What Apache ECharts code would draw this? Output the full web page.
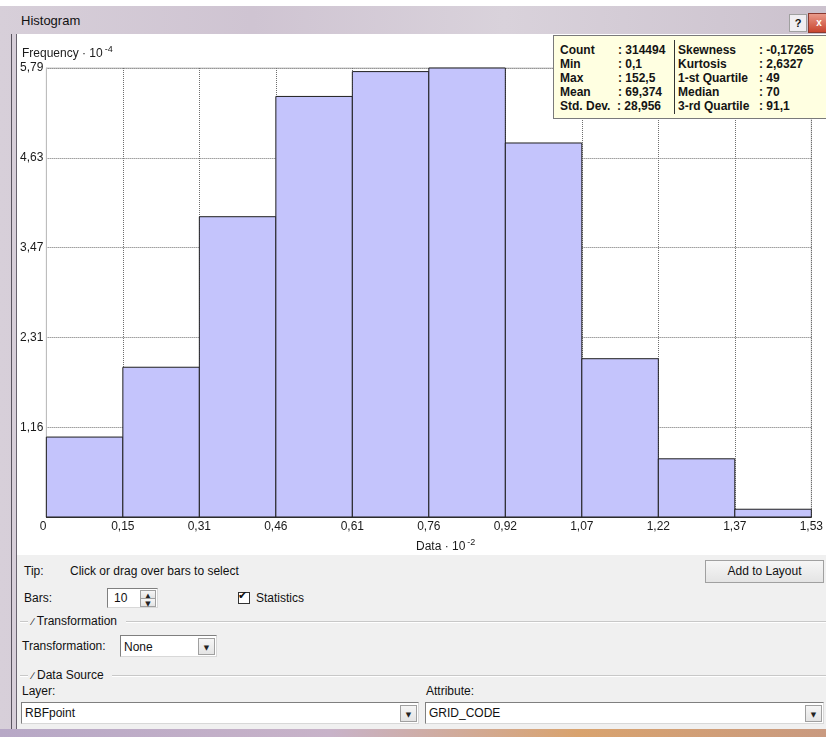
<!DOCTYPE html>
<html>
<head>
<meta charset="utf-8">
<script src="https://cdn.jsdelivr.net/npm/echarts@6/dist/echarts.min.js"></script>
<style>
  html, body { margin: 0; padding: 0; width: 826px; height: 737px; overflow: hidden; background: #fff;
    font-family: "Liberation Sans", Arial, sans-serif; font-size: 12px; color: #111; }
  .abs { position: absolute; white-space: nowrap; }
  #frame { left: 0; top: 6px; width: 840px; height: 724px;
    background: linear-gradient(90deg, #d7cfd9 0%, #cfc4d2 30%, #d9d2db 60%, #cbc1cd 100%); }
  #leftline1 { left: 11px; top: 34px; width: 1px; height: 696px; background: #5a5560; }
  #leftline2 { left: 16px; top: 34px; width: 1px; height: 696px; background: #6a6470; }
  #bottomglow { left: 0; top: 729px; width: 826px; height: 8px;
    background: linear-gradient(90deg, #b7a8c6 0%, #c8b3c9 40%, #d9a36e 70%, #c99a80 100%); }
  #panel { left: 17px; top: 555px; width: 820px; height: 174px; background: #f0f0f0; }
  #chart { position: absolute; left: 17px; top: 34px; width: 809px; height: 521px; background: #fff; }
  #stats { left: 553px; top: 35px; width: 290px; height: 82px; background: #ffffe1;
    border: 1px solid #7a7a7a; font-weight: bold; font-size: 12px; color: #141414; }
  #stats span { position: absolute; white-space: nowrap; }
  .btn { border: 1px solid #a0a0a0; background: linear-gradient(#f6f6f6, #e4e4e4); text-align: center; }
  .box { background: #fff; border: 1px solid #7f7f7f; border-right-color: #d8d8d8; border-bottom-color: #d8d8d8; }
  .grp { height: 1px; background: #c8c8c8; border-bottom: 1px solid #fff; }
  .arrow { font-family: "DejaVu Sans"; font-size: 7px; color: #222; }
</style>
</head>
<body>
<div id="frame" class="abs"></div>
<div class="abs" style="left:21px; top:13px; font-family:'Liberation Sans'; font-size:13px; color:#111;">Histogram</div>
<div class="abs btn" style="left:789px; top:14px; width:16px; height:16px; font-weight:bold; font-size:11px; line-height:16px; background:#f0eef2;">?</div>
<div class="abs" style="left:808px; top:13px; width:20px; height:18px; background:linear-gradient(#e99a8a,#c8442e); border:1px solid #8a3a30; color:#fff; font-weight:bold; font-size:10px; line-height:17px; text-align:center;">x</div>
<div id="leftline1" class="abs"></div>
<div id="leftline2" class="abs"></div>
<div id="panel" class="abs"></div>
<div id="bottomglow" class="abs"></div>
<div id="chart"></div>

<div id="stats" class="abs">
  <span style="left:6px; top:7px;">Count</span><span style="left:64px; top:7px;">: 314494</span>
  <span style="left:6px; top:21px;">Min</span><span style="left:64px; top:21px;">: 0,1</span>
  <span style="left:6px; top:35px;">Max</span><span style="left:64px; top:35px;">: 152,5</span>
  <span style="left:6px; top:49px;">Mean</span><span style="left:64px; top:49px;">: 69,374</span>
  <span style="left:6px; top:63px;">Std. Dev.</span><span style="left:63px; top:63px;">: 28,956</span>
  <span style="left:120px; top:4px; width:1px; height:74px; background:#333;"></span>
  <span style="left:124px; top:7px;">Skewness</span><span style="left:205px; top:7px;">: -0,17265</span>
  <span style="left:124px; top:21px;">Kurtosis</span><span style="left:205px; top:21px;">: 2,6327</span>
  <span style="left:124px; top:35px;">1-st Quartile</span><span style="left:205px; top:35px;">: 49</span>
  <span style="left:124px; top:49px;">Median</span><span style="left:205px; top:49px;">: 70</span>
  <span style="left:124px; top:63px;">3-rd Quartile</span><span style="left:205px; top:63px;">: 91,1</span>
</div>

<!-- bottom controls -->
<div class="abs" style="left:24px; top:564px;">Tip:</div>
<div class="abs" style="left:70px; top:564px;">Click or drag over bars to select</div>
<div class="abs btn" style="left:705px; top:560px; width:117px; height:21px; line-height:21px;">Add to Layout</div>

<div class="abs" style="left:24px; top:591px;">Bars:</div>
<div class="abs box" style="left:107px; top:588px; width:49px; height:18px;"></div>
<div class="abs" style="left:114px; top:591px;">10</div>
<div class="abs btn" style="left:140px; top:590px; width:14px; height:7px; line-height:7px;"><span class="arrow">▲</span></div>
<div class="abs btn" style="left:140px; top:598px; width:14px; height:7px; line-height:7px;"><span class="arrow">▼</span></div>
<div class="abs box" style="left:238px; top:592px; width:10px; height:10px; border:1px solid #333;"></div>
<div class="abs" style="left:238px; top:589px; font-family:'DejaVu Sans'; font-size:11px; font-weight:bold;">✔</div>
<div class="abs" style="left:256px; top:591px;">Statistics</div>

<div class="abs grp" style="left:20px; top:621px; width:8px;"></div>
<div class="abs" style="left:32px; top:614px;"><span style="font-size:10px;">∕</span> Transformation</div>
<div class="abs grp" style="left:126px; top:621px; width:700px;"></div>
<div class="abs" style="left:22px; top:639px;">Transformation:</div>
<div class="abs box" style="left:120px; top:635px; width:95px; height:20px;"></div>
<div class="abs" style="left:124px; top:640px;">None</div>
<div class="abs btn" style="left:198px; top:638px; width:15px; height:15px; line-height:15px;"><span class="arrow">▼</span></div>

<div class="abs grp" style="left:20px; top:675px; width:8px;"></div>
<div class="abs" style="left:32px; top:668px;"><span style="font-size:10px;">∕</span> Data Source</div>
<div class="abs grp" style="left:112px; top:675px; width:714px;"></div>
<div class="abs" style="left:22px; top:684px;">Layer:</div>
<div class="abs" style="left:426px; top:684px;">Attribute:</div>
<div class="abs box" style="left:21px; top:702px; width:396px; height:20px;"></div>
<div class="abs" style="left:25px; top:706px;">RBFpoint</div>
<div class="abs btn" style="left:400px; top:705px; width:15px; height:15px; line-height:15px;"><span class="arrow">▼</span></div>
<div class="abs box" style="left:425px; top:702px; width:397px; height:20px;"></div>
<div class="abs" style="left:429px; top:706px;">GRID_CODE</div>
<div class="abs btn" style="left:805px; top:705px; width:15px; height:15px; line-height:15px;"><span class="arrow">▼</span></div>

<script>
// bin edges (Data · 10^-2), 10 bins
const binEdgeLabels = ['0', '0,15', '0,31', '0,46', '0,61', '0,76', '0,92', '1,07', '1,22', '1,37', '1,53'];
// frequency per bin (· 10^-4)
const frequencies = [1.03, 1.93, 3.87, 5.42, 5.74, 5.7865, 4.82, 2.04, 0.75, 0.10];
// y tick labels
const yTickLabels = ['0', '1,16', '2,31', '3,47', '4,63', '5,79'];
const yMax = 5.7865;

const yStep = yMax / 5;
const chart = echarts.init(document.getElementById('chart'));

const option = {
  animation: false,
  textStyle: { fontFamily: 'Liberation Sans' },
  grid: {
    left: 29, right: 10, top: 34, bottom: 38,
    show: true, borderColor: '#c4c4c4', borderWidth: 1, backgroundColor: '#fff'
  },
  xAxis: {
    type: 'value',
    min: 0,
    max: binEdgeLabels.length - 1,
    interval: 1,
    axisLine: { show: true, lineStyle: { color: '#3a3a3a', width: 1 } },
    axisTick: { show: false },
    splitLine: { show: true, lineStyle: { color: '#6e6e6e', type: [1, 1], width: 1 } },
    axisLabel: {
      margin: 4,
      color: '#1a1a1a',
      fontSize: 12,
      alignMinLabel: 'right',
      formatter: function (v) { return binEdgeLabels[Math.round(v)] }
    }
  },
  yAxis: {
    type: 'value',
    min: 0,
    max: yMax,
    interval: yStep,
    axisLine: { show: true, lineStyle: { color: '#bdbdbd', width: 1 } },
    axisTick: { show: false },
    splitLine: { show: true, lineStyle: { color: '#6e6e6e', type: [1, 1], width: 1 } },
    axisLabel: {
      margin: 3,
      color: '#1a1a1a',
      fontSize: 12,
      formatter: function (v) {
        const i = Math.round(v / yStep)
        return i === 0 ? '' : yTickLabels[i]
      }
    }
  },
  graphic: [
    {
      type: 'text', left: 5, top: 11,
      style: {
        text: '{a|Frequency · 10}{s|-4}',
        rich: {
          a: { fontSize: 12, fill: '#1a1a1a', fontFamily: 'Liberation Sans' },
          s: { fontSize: 9, fill: '#1a1a1a', fontFamily: 'Liberation Sans', padding: [0, 0, 9, 2] }
        }
      }
    },
    {
      type: 'text', left: 399, top: 504,
      style: {
        text: '{a|Data · 10}{s|-2}',
        rich: {
          a: { fontSize: 12, fill: '#1a1a1a', fontFamily: 'Liberation Sans' },
          s: { fontSize: 9, fill: '#1a1a1a', fontFamily: 'Liberation Sans', padding: [0, 0, 9, 2] }
        }
      }
    }
  ],
  series: [{
    type: 'custom',
    data: frequencies.map(function (v, i) { return [i, v] }),
    renderItem: function (params, api) {
      const i = api.value(0)
      const v = api.value(1)
      const p0 = api.coord([i, 0])
      const p1 = api.coord([i + 1, v])
      return {
        type: 'rect',
        shape: { x: p0[0], y: p1[1], width: p1[0] - p0[0], height: p0[1] - p1[1] },
        style: { fill: '#c4c4fc', stroke: '#1f1f1f', lineWidth: 1 }
      }
    },
    z: 5
  }]
};
chart.setOption(option);
</script>
</body>
</html>
